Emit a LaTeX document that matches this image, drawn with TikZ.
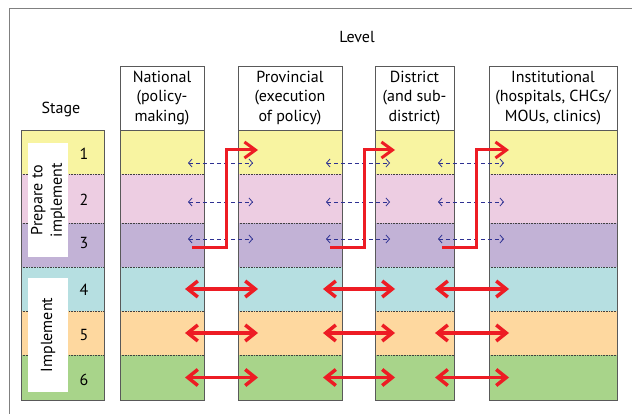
\documentclass[tikz,border=0pt]{standalone}
\usepackage{fontspec}
\setmainfont{PT Sans}
\usetikzlibrary{arrows.meta}
\usetikzlibrary{positioning}

\definecolor{rowA}{RGB}{248,244,161}
\definecolor{rowB}{RGB}{237,205,226}
\definecolor{rowC}{RGB}{194,178,214}
\definecolor{rowD}{RGB}{182,223,225}
\definecolor{rowE}{RGB}{254,216,159}
\definecolor{rowF}{RGB}{168,212,138}
\definecolor{linkred}{RGB}{237,28,36}
\definecolor{linkblue}{RGB}{46,49,146}

\begin{document}
\begin{tikzpicture}[
		x=1pt, y=-1pt,
		every node/.append style={font=\fontsize{16}{19.5}\selectfont},
		cell/.style={
			rectangle,
			draw=none,
			anchor=north west,
			inner sep=0pt,
			outer sep=0pt},
		header/.style={
			draw=black!65,
			rectangle,
			anchor=north west,
			inner sep=0pt,
			outer sep=0pt,
			minimum height=64pt,
			align=center},
		stagelbl/.style={
			fill=white,
			rectangle,
			rotate=90,
			inner sep=0pt,
			minimum width=114pt,
			minimum height=40pt,
			align=center},
		colline/.style={draw=black!65, line width=0.9pt},
		rowsep/.style={draw=black!75, densely dotted, line width=0.6pt},
		dashlink/.style={
			draw=linkblue,
			line width=0.8pt,
			dash pattern=on 4pt off 3pt,
			{Straight Barb[length=3.5pt,width=8pt]}-{Straight Barb[length=3.5pt,width=8pt]}},
		steplink/.style={
			draw=linkred,
			line width=3pt,
			-{Straight Barb[length=11pt,width=16pt]}},
		bothlink/.style={
			draw=linkred,
			line width=3.5pt,
			{Straight Barb[length=10pt,width=16pt]}-{Straight Barb[length=10pt,width=16pt]}},
		]

		\useasboundingbox (0,0) rectangle (632,414);

		%Frame
		\draw[black!50, line width=1pt] (9,414) -- (9,9) -- (632,9);

		%Titles
		\node (level) at (357,37) {Level};
		\node (stage) at (61,110) {Stage};

		%Column headers
		\node (nat)[header, minimum width=84pt] at (120,66) {National\\(policy-\\making)};
		\node (prov)[header, minimum width=104pt] at (238,66) {Provincial\\(execution\\of policy)};
		\node (dist)[header, minimum width=79pt] at (375,66) {District\\(and sub-\\district)};
		\node (inst)[header, minimum width=128pt] at (489,66) {Institutional\\(hospitals, CHCs/\\MOUs, clinics)};

		%Rows
		\foreach \c/\l/\w in {st/21/83, nat/120/84, prov/238/104, dist/375/79, inst/489/128}{
			\foreach \r/\t/\h/\col in {1/130/44/rowA, 2/174/49/rowB, 3/223/44/rowC, 4/267/44/rowD, 5/311/44/rowE, 6/355/45/rowF}{
				\node (\c\r)[cell, fill=\col, minimum width=\w pt, minimum height=\h pt] at (\l,\t) {};
			}
			\foreach \r in {1,...,5}{
				\draw[rowsep] (\c\r.south west) -- (\c\r.south east);
			}
			\draw[colline] (\c1.north west) rectangle (\c6.south east);
		}

		%Stage numbers
		\foreach \r/\dy in {1/-2, 2/-1.5, 3/2, 4/-1, 5/-2, 6/-2.5}{
			\node at ([xshift=-20pt, yshift=\dy pt]st\r.east) {\r};
		}

		%Stage labels
		\node (prep)[stagelbl] at (48,200) {Prepare to\\implement};
		\node (impl)[stagelbl] at (48,335) {Implement};

		%Preparation links
		\foreach \a/\b in {nat/prov, prov/dist, dist/inst}{
			\foreach \r/\dy in {1/-11, 2/-3.5, 3/6}{
				\draw[dashlink] ([xshift=-16pt, yshift=\dy pt]\a\r.east) -- ([xshift=15pt, yshift=\dy pt]\b\r.west);
			}
			\draw[steplink] ([xshift=-12pt, yshift=-3pt]\a3.east) -- ++(34,0) |- ([xshift=20pt, yshift=2pt]\b1.west);
		}

		%Implementation links
		\foreach \a/\b in {nat/prov, prov/dist, dist/inst}{
			\foreach \r in {4,5,6}{
				\draw[bothlink] ([xshift=-19pt]\a\r.east) -- ([xshift=20pt]\b\r.west);
			}
		}

	\end{tikzpicture}
\end{document}
